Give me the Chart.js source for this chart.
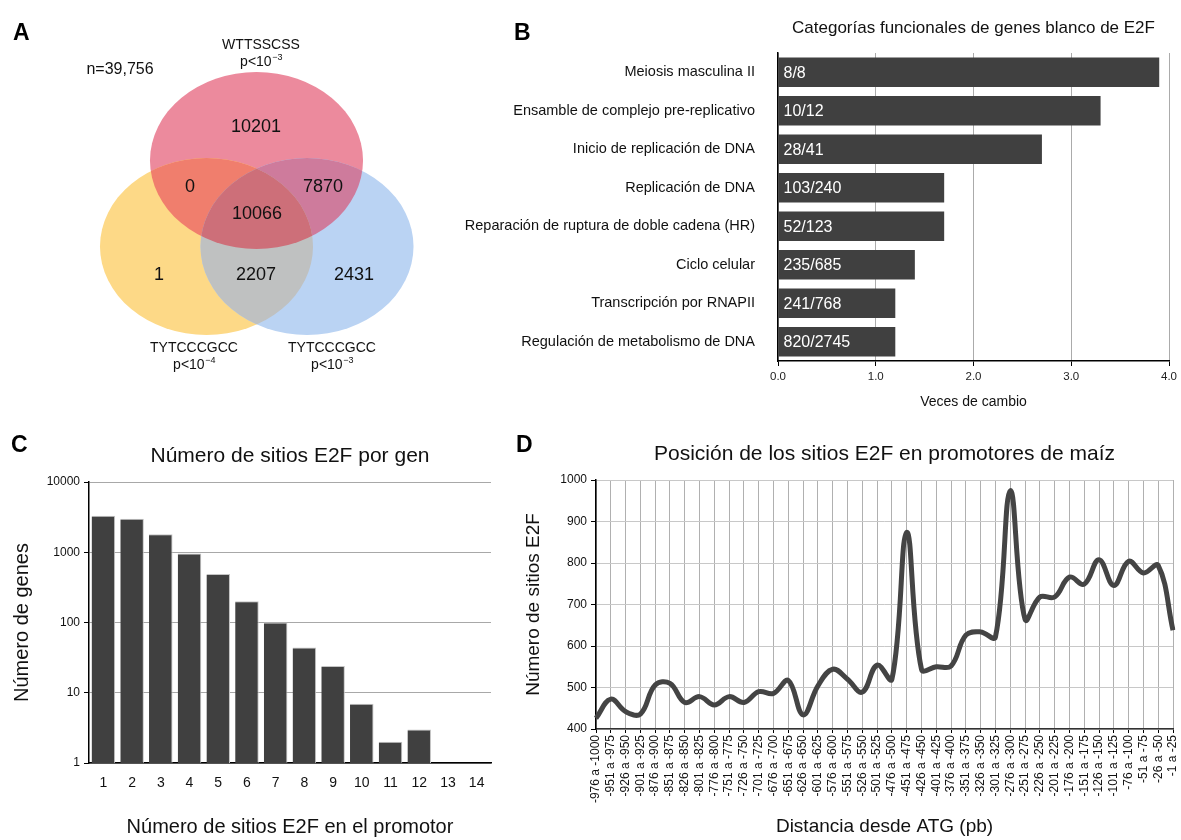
<!DOCTYPE html>
<html>
<head>
<meta charset="utf-8">
<title>Sitios E2F en promotores de maíz</title>
<script src="https://cdn.jsdelivr.net/npm/chart.js@4.4.0/dist/chart.umd.min.js"></script>
<style>
  html, body { margin: 0; padding: 0; background: #fff; }
  #page { position: relative; width: 1181px; height: 840px; overflow: hidden;
          font-family: 'Liberation Sans', Arial, sans-serif; }
  #page canvas { position: absolute; }
  .tag { position: absolute; font-weight: bold; font-size: 23px; line-height: 23px; color: #000; }
</style>
</head>
<body>
<div id="page">
  <canvas id="chartA" width="460" height="400" style="left:0;top:0"></canvas>
  <canvas id="chartB" width="731" height="420" style="left:450px;top:0"></canvas>
  <canvas id="chartC" width="520" height="410" style="left:0;top:430px"></canvas>
  <canvas id="chartD" width="661" height="410" style="left:520px;top:430px"></canvas>
  <div class="tag" style="left:13px;top:21px">A</div>
  <div class="tag" style="left:514px;top:21px">B</div>
  <div class="tag" style="left:11px;top:433px">C</div>
  <div class="tag" style="left:516px;top:433px">D</div>
</div>
<script>
// ---------- data ----------
// A: motif sets and gene counts per Venn region
const vennSetNames = ['WTTSSCSS', 'TYTCCCGCC', 'TYTCCCGCC'];
const vennSetPExp = ['3', '4', '3'];          // p < 10^-n
const vennTotal = 'n=39,756';
// regions: W only, W∩T4, W∩T3, all, T4 only, T4∩T3, T3 only
const vennRegionCounts = [10201, 0, 7870, 10066, 1, 2207, 2431];

// B: functional categories of E2F target genes
const goCategories = [
  'Meiosis masculina II',
  'Ensamble de complejo pre-replicativo',
  'Inicio de replicación de DNA',
  'Replicación de DNA',
  'Reparación de ruptura de doble cadena (HR)',
  'Ciclo celular',
  'Transcripción por RNAPII',
  'Regulación de metabolismo de DNA'
];
const goFoldChange = [3.9, 3.3, 2.7, 1.7, 1.7, 1.4, 1.2, 1.2];
const goGeneRatio = ['8/8', '10/12', '28/41', '103/240', '52/123', '235/685', '241/768', '820/2745'];

// C: number of E2F sites per gene
const sitesPerPromoter = ['1','2','3','4','5','6','7','8','9','10','11','12','13','14'];
const genesWithSites = [3300, 3000, 1800, 960, 490, 200, 100, 44, 24, 7, 2, 3, null, null];

// D: position of E2F sites in maize promoters
const positionBins = [
  '-976 a -1000','-951 a -975','-926 a -950','-901 a -925','-876 a -900',
  '-851 a -875','-826 a -850','-801 a -825','-776 a -800','-751 a -775',
  '-726 a -750','-701 a -725','-676 a -700','-651 a -675','-626 a -650',
  '-601 a -625','-576 a -600','-551 a -575','-526 a -550','-501 a -525',
  '-476 a -500','-451 a -475','-426 a -450','-401 a -425','-376 a -400',
  '-351 a -375','-326 a -350','-301 a -325','-276 a -300','-251 a -275',
  '-226 a -250','-201 a -225','-176 a -200','-151 a -175','-126 a -150',
  '-101 a -125','-76 a -100','-51 a -75','-26 a -50','-1 a -25'
];
const sitesPerBin = [
  426, 472, 442, 436, 506, 510, 464, 478, 458, 478,
  464, 490, 486, 517, 434, 504, 544, 520, 489, 554,
  520, 874, 544, 550, 552, 626, 634, 622, 974, 664,
  718, 718, 766, 749, 808, 746, 804, 776, 794, 638
];

// ---------- shared settings ----------
const FAM = "'Liberation Sans', Arial, sans-serif";
Chart.defaults.font.family = FAM;
Chart.defaults.color = '#111';
Chart.defaults.animation = false;
Chart.defaults.responsive = false;
Chart.defaults.plugins.legend.display = false;
Chart.defaults.plugins.tooltip.enabled = false;

// Title centred over the plot area (not the whole canvas)
const areaTitle = {
  id: 'areaTitle',
  afterDraw(chart, args, opts) {
    if (!opts || !opts.text) return;
    const { ctx, chartArea: a } = chart;
    ctx.save();
    ctx.font = `${opts.size}px ${FAM}`;
    ctx.fillStyle = '#111';
    ctx.textAlign = 'center';
    ctx.textBaseline = 'middle';
    ctx.fillText(opts.text, (a.left + a.right) / 2, opts.y);
    ctx.restore();
  }
};

// ---------- A: Venn diagram ----------
const vennLayout = {
  ellipses: [
    { cx: 256.5, cy: 160.5, rx: 106.5, ry: 88.5 },
    { cx: 206.5, cy: 246.5, rx: 106.5, ry: 88.5 },
    { cx: 307.0, cy: 246.5, rx: 106.5, ry: 88.5 }
  ],
  fills: [
    { sets: [0], color: '#EC8A9D' },
    { sets: [1], color: '#FDD987' },
    { sets: [2], color: '#BAD3F3' },
    { sets: [0, 1], color: '#F07E6D' },
    { sets: [0, 2], color: '#CE7B9C' },
    { sets: [1, 2], color: '#BFC1C1' },
    { sets: [0, 1, 2], color: '#CD6F79' }
  ],
  countPos: [[256, 127], [190, 187], [323, 187], [257, 214], [159, 275], [256, 275], [354, 275]],
  setLabelPos: [[261, 45, 62], [194, 348, 365], [332, 348, 365]],
  totalPos: [120, 70]
};

const vennPlugin = {
  id: 'venn',
  beforeDatasetsDraw(chart) {
    const { ctx, scales: { x, y } } = chart;
    const paths = vennLayout.ellipses.map(e => {
      const cx = x.getPixelForValue(e.cx), cy = y.getPixelForValue(e.cy);
      const rx = Math.abs(x.getPixelForValue(e.cx + e.rx) - cx);
      const ry = Math.abs(y.getPixelForValue(e.cy + e.ry) - cy);
      const p = new Path2D();
      p.ellipse(cx, cy, rx, ry, 0, 0, Math.PI * 2);
      return p;
    });
    vennLayout.fills.forEach(f => {
      ctx.save();
      f.sets.slice(0, -1).forEach(i => ctx.clip(paths[i]));
      ctx.fillStyle = f.color;
      ctx.fill(paths[f.sets[f.sets.length - 1]]);
      ctx.restore();
    });
  },
  afterDatasetsDraw(chart) {
    const { ctx, scales: { x, y } } = chart;
    ctx.save();
    ctx.fillStyle = '#111';
    ctx.textBaseline = 'middle';
    ctx.textAlign = 'center';
    // region counts, placed at the dataset points
    const meta = chart.getDatasetMeta(0);
    ctx.font = `18px ${FAM}`;
    meta.data.forEach((pt, i) => ctx.fillText(String(vennRegionCounts[i]), pt.x, pt.y));
    // set names with p-value thresholds
    vennLayout.setLabelPos.forEach((p, i) => {
      const px = x.getPixelForValue(p[0]);
      ctx.font = `14px ${FAM}`;
      ctx.textAlign = 'center';
      ctx.fillText(vennSetNames[i], px, y.getPixelForValue(p[1]));
      const base = 'p<10', sup = '\u2212' + vennSetPExp[i];
      const py = y.getPixelForValue(p[2]);
      ctx.font = `14px ${FAM}`;
      const wb = ctx.measureText(base).width;
      ctx.font = `9px ${FAM}`;
      const ws = ctx.measureText(sup).width;
      const left = px - (wb + ws) / 2;
      ctx.textAlign = 'left';
      ctx.font = `14px ${FAM}`;
      ctx.fillText(base, left, py);
      ctx.font = `9px ${FAM}`;
      ctx.fillText(sup, left + wb + 0.5, py - 4);
    });
    ctx.textAlign = 'center';
    ctx.font = `16px ${FAM}`;
    ctx.fillText(vennTotal, x.getPixelForValue(vennLayout.totalPos[0]), y.getPixelForValue(vennLayout.totalPos[1]));
    ctx.restore();
  }
};

new Chart(document.getElementById('chartA'), {
  type: 'scatter',
  data: {
    datasets: [{
      data: vennLayout.countPos.map(p => ({ x: p[0], y: p[1] })),
      pointRadius: 0
    }]
  },
  options: {
    layout: { padding: 0 },
    scales: {
      x: { type: 'linear', min: 0, max: 460, display: false },
      y: { type: 'linear', min: 0, max: 400, reverse: true, display: false }
    }
  },
  plugins: [vennPlugin]
});

// ---------- B: horizontal bar chart ----------
const barTextPlugin = {
  id: 'barText',
  afterDatasetsDraw(chart) {
    const { ctx } = chart;
    const meta = chart.getDatasetMeta(0);
    ctx.save();
    ctx.font = `16px ${FAM}`;
    ctx.fillStyle = '#fff';
    ctx.textAlign = 'left';
    ctx.textBaseline = 'middle';
    meta.data.forEach((bar, i) => ctx.fillText(goGeneRatio[i], bar.base + 5, bar.y + 1));
    ctx.restore();
  }
};

new Chart(document.getElementById('chartB'), {
  type: 'bar',
  data: {
    labels: goCategories,
    datasets: [{
      data: goFoldChange,
      backgroundColor: '#404040',
      barPercentage: 0.77,
      categoryPercentage: 1
    }]
  },
  options: {
    indexAxis: 'y',
    layout: { padding: { top: 53, right: 8, left: 0, bottom: 0 } },
    plugins: { areaTitle: { text: 'Categorías funcionales de genes blanco de E2F', size: 17, y: 28 } },
    scales: {
      x: {
        min: 0, max: 4,
        ticks: { stepSize: 1, callback: v => Number(v).toFixed(1), font: { size: 11.5 }, color: '#222', padding: 4 },
        grid: { color: '#ababab', tickColor: '#000', tickLength: 5 },
        border: { color: '#000', width: 1.5 },
        title: { display: true, text: 'Veces de cambio', font: { size: 14 }, color: '#111', padding: { top: 0, bottom: 9 } },
        afterFit(s) { s.height = 59; }
      },
      y: {
        grid: { display: false },
        border: { color: '#000', width: 1.5 },
        ticks: { font: { size: 14.5 }, color: '#111', padding: 15 },
        afterFit(s) { s.width = 328; }
      }
    }
  },
  plugins: [barTextPlugin, areaTitle]
});

// ---------- C: log-scale bar chart ----------
const isPow10 = v => { const l = Math.log10(v); return Math.abs(l - Math.round(l)) < 1e-9; };

new Chart(document.getElementById('chartC'), {
  type: 'bar',
  data: {
    labels: sitesPerPromoter,
    datasets: [{
      data: genesWithSites,
      backgroundColor: '#404040',
      borderColor: '#c4c4c4',
      borderWidth: { top: 1, right: 1, left: 0, bottom: 0 },
      barPercentage: 0.82,
      categoryPercentage: 1
    }]
  },
  options: {
    layout: { padding: { top: 52, right: 29, left: 0, bottom: 0 } },
    plugins: { areaTitle: { text: 'Número de sitios E2F por gen', size: 21, y: 26 } },
    scales: {
      x: {
        grid: { display: false },
        border: { color: '#000', width: 1.5 },
        ticks: { font: { size: 14 }, color: '#111', padding: 4 },
        title: { display: true, text: 'Número de sitios E2F en el promotor', font: { size: 20 }, color: '#111', padding: { top: 0, bottom: 1 } },
        afterFit(s) { s.height = 77; }
      },
      y: {
        type: 'logarithmic', min: 1, max: 10000,
        ticks: { autoSkip: false, callback: v => isPow10(v) ? String(Math.round(v)) : null, font: { size: 12 }, color: '#111', padding: 4 },
        grid: { color: '#a8a8a8', tickColor: '#000', tickLength: 5 },
        border: { color: '#000', width: 1.5 },
        title: { display: true, text: 'Número de genes', font: { size: 20 }, color: '#111', padding: { top: 10, bottom: 0 } },
        afterFit(s) { s.width = 89; }
      }
    }
  },
  plugins: [areaTitle]
});

// ---------- D: smoothed line chart ----------
new Chart(document.getElementById('chartD'), {
  type: 'line',
  data: {
    labels: positionBins,
    datasets: [{
      data: sitesPerBin,
      borderColor: '#444444',
      borderWidth: 5,
      pointRadius: 0,
      tension: 0.4,
      fill: false
    }]
  },
  options: {
    layout: { padding: { top: 50, right: 8, left: 0, bottom: 0 } },
    plugins: { areaTitle: { text: 'Posición de los sitios E2F en promotores de maíz', size: 21, y: 24 } },
    scales: {
      x: {
        offset: false,
        grid: { color: '#b0b0b0', tickColor: '#000', tickLength: 4 },
        border: { color: '#333', width: 1.5 },
        ticks: { autoSkip: false, minRotation: 90, maxRotation: 90, font: { size: 12 }, color: '#111', padding: 2 },
        title: { display: true, text: 'Distancia desde ATG (pb)', font: { size: 19 }, color: '#111', padding: { top: 0, bottom: 2 } },
        afterFit(s) { s.height = 111; s.paddingRight = 0; s.paddingLeft = 0; }
      },
      y: {
        min: 400, max: 1000,
        ticks: { stepSize: 100, callback: v => String(v), font: { size: 12 }, color: '#111', padding: 4 },
        grid: { color: '#c8c8c8', tickColor: '#000', tickLength: 5 },
        border: { color: '#000', width: 1.5 },
        title: { display: true, text: 'Número de sitios E2F', font: { size: 19 }, color: '#111', padding: { top: 2, bottom: 0 } },
        afterFit(s) { s.width = 76; s.paddingTop = 0; s.paddingBottom = 0; }
      }
    }
  },
  plugins: [areaTitle]
});
</script>
</body>
</html>
